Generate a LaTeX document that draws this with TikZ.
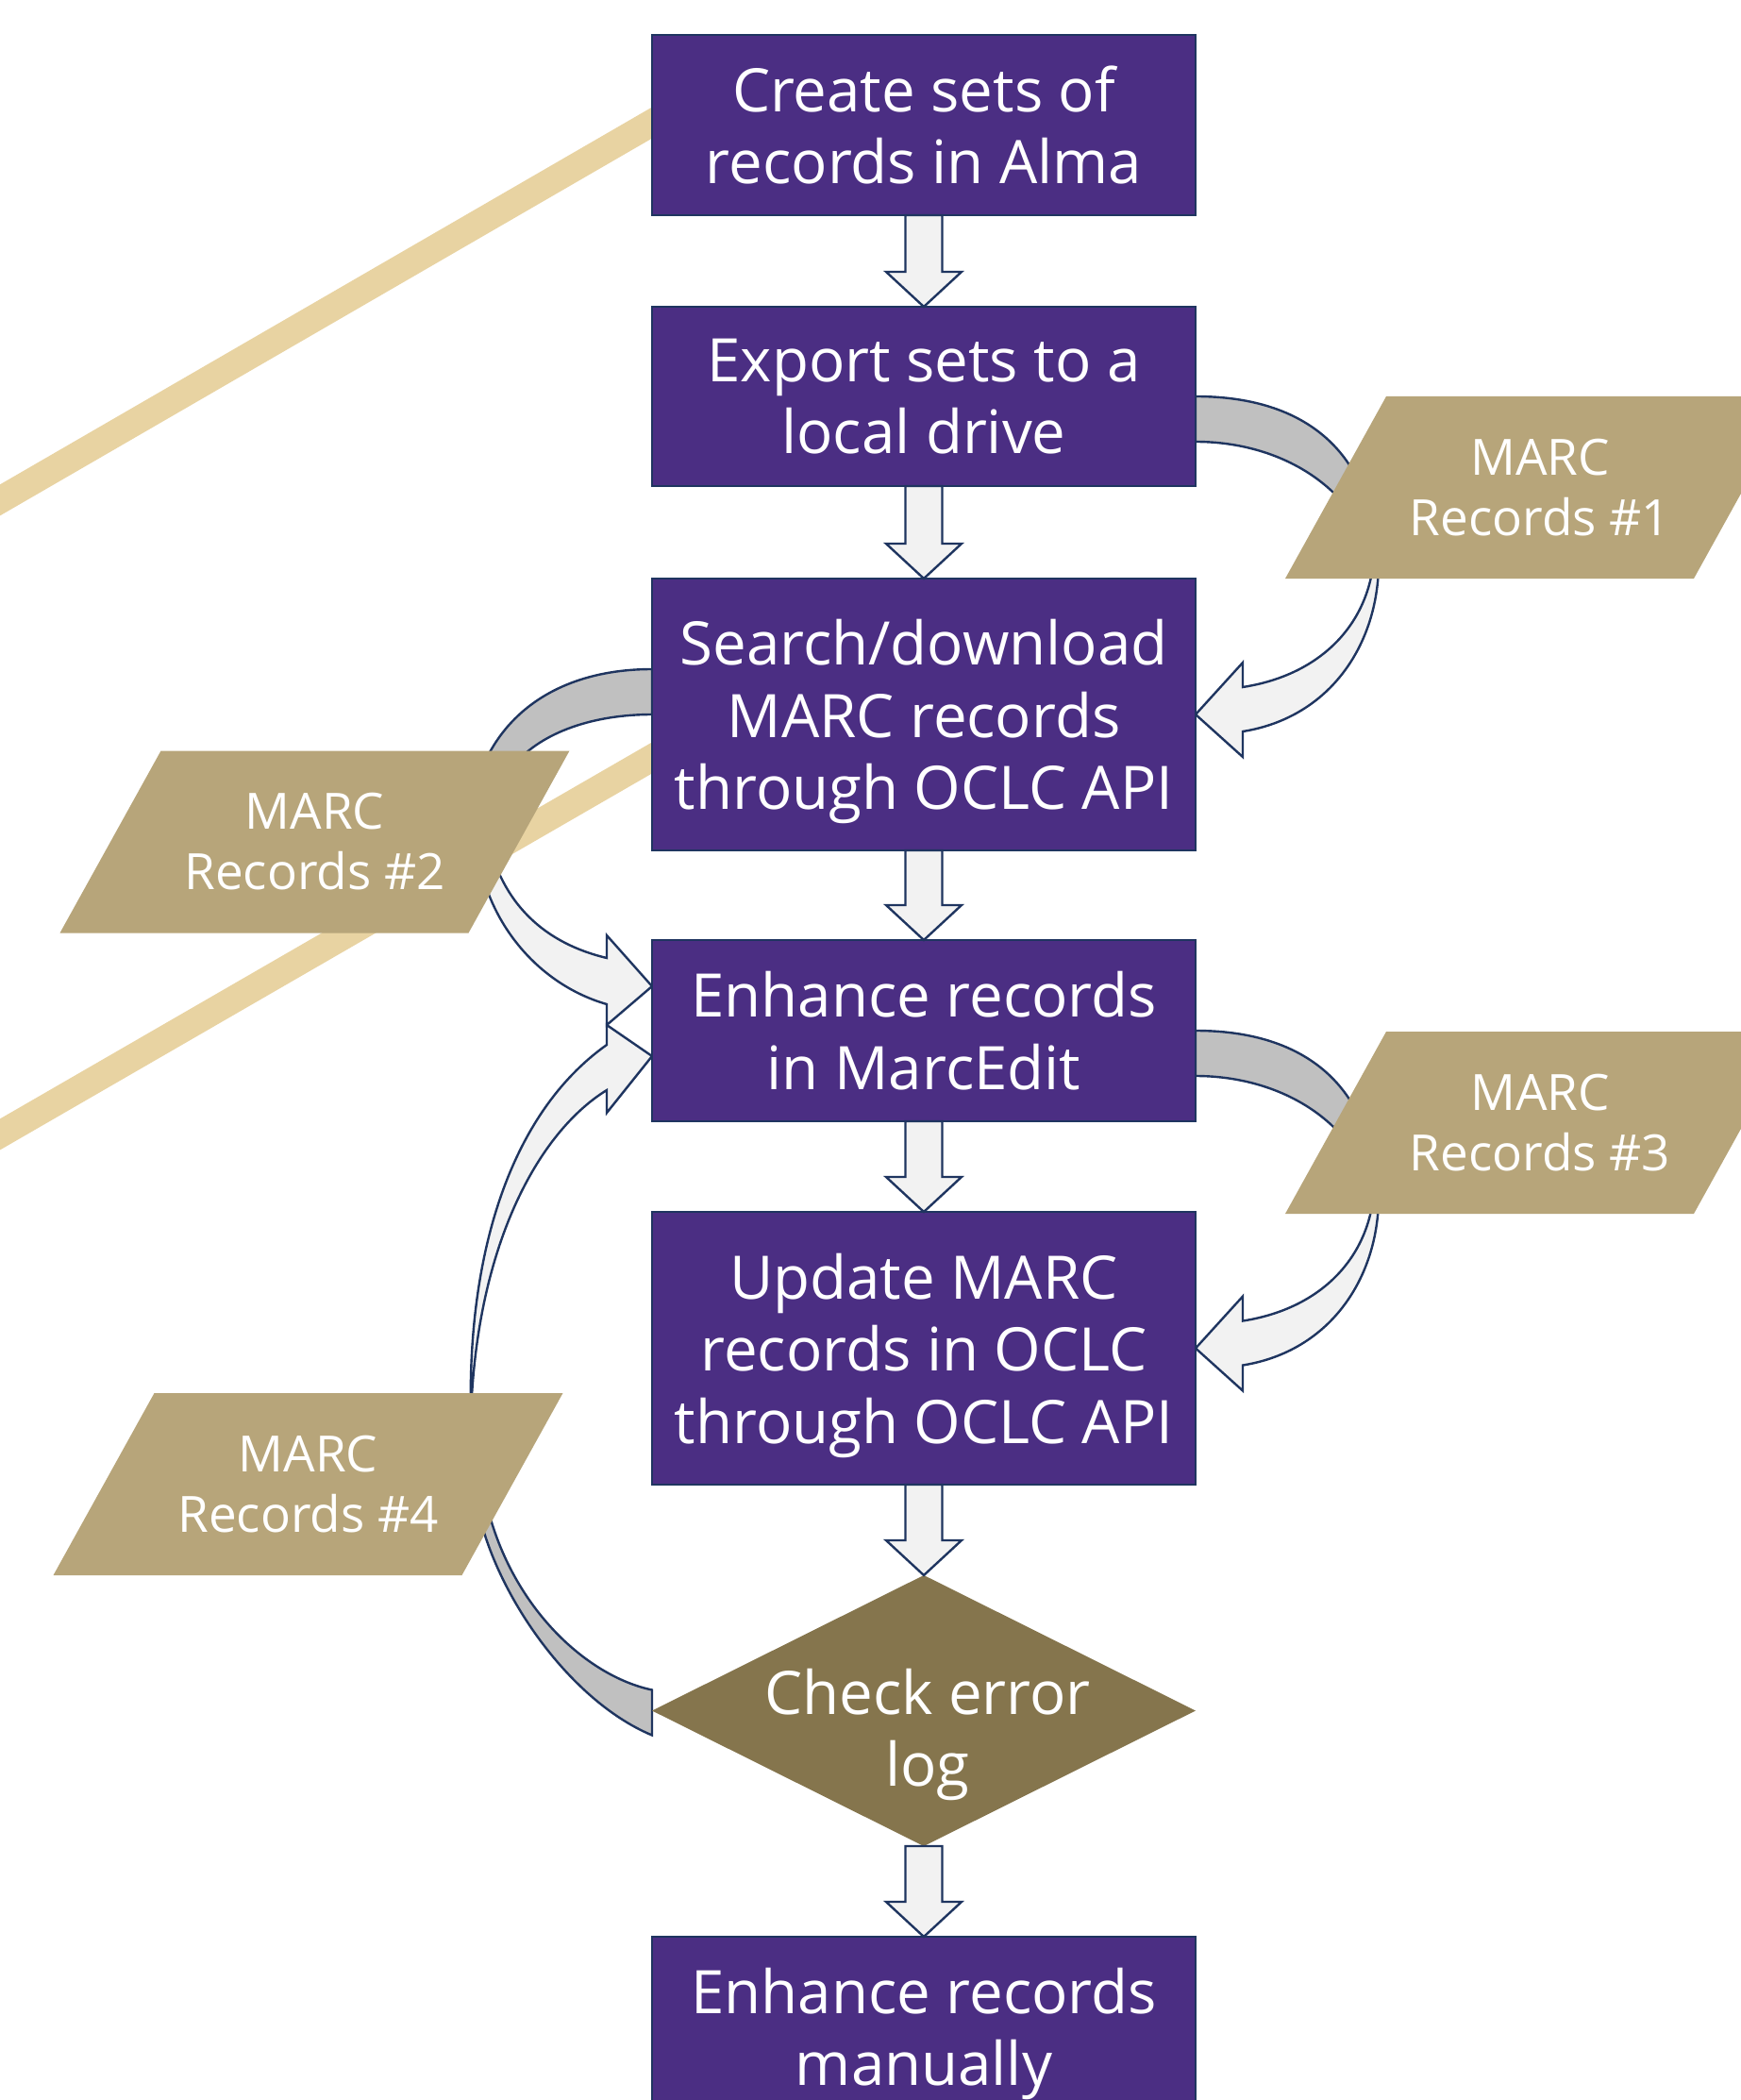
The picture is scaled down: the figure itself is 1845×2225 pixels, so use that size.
\documentclass[tikz,border=0pt]{standalone}
\usepackage{fontspec}
\setmainfont{Open Sans}
\usetikzlibrary{calc,shapes.geometric}
\definecolor{uwpurple}{HTML}{4B2E83}
\definecolor{navyline}{HTML}{1F3560}
\definecolor{uwgold}{HTML}{B7A57A}
\definecolor{tanline}{HTML}{E8D3A2}
\definecolor{dgold}{HTML}{85754D}
\definecolor{afill}{HTML}{F2F2F2}
\definecolor{agray}{HTML}{C0C0C0}
\pgfdeclarelayer{bg}
\pgfdeclarelayer{mid}
\pgfsetlayers{bg,mid,main}
\tikzset{
 pbox/.style={draw=navyline, line width=1.1pt, fill=uwpurple, text=white, minimum width=288pt, inner sep=0pt, outer sep=0pt, align=center, font=\fontsize{31.8pt}{38.3pt}\selectfont},
 dtext/.style={text=white, inner sep=0pt, align=center, font=\fontsize{31.8pt}{38.3pt}\selectfont},
 marctext/.style={text=white, align=center, inner sep=0pt, font=\fontsize{26.5pt}{32pt}\selectfont},
 blockarrow/.style={fill=afill, draw=navyline, line width=1.2pt},
 grayarrow/.style={fill=agray, draw=navyline, line width=1.2pt},
 band/.style={draw=tanline, line width=14.3pt},
}
\newcommand\dnarrow[2]{\draw[blockarrow] ($(#1.south)+(-19.5,0)$) -- ($(#2.north)+(-19.5,-37)$) -- ($(#2.north)+(-40,-37)$) -- (#2.north) -- ($(#2.north)+(40,-37)$) -- ($(#2.north)+(19.5,-37)$) -- ($(#1.south)+(19.5,0)$) -- cycle;}
\newcommand\marcshape[4]{\coordinate (#1c) at (#2,#3);
 \fill[uwgold] ($(#1c)+(-163,-96.5)$) -- ($(#1c)+(270,-96.5)$) -- ($(#1c)+(163,96.5)$) -- ($(#1c)+(-270,96.5)$) -- cycle;
 \node[marctext] (#1) at (#1c) {#4};}
\newcommand\rightcurve[2]{%
 \draw[grayarrow] (#1.east) .. controls ($(#1.east)+(118,0)$) and ($(#1.east)+(186,60)$) .. ($(#1.east)+(192,170)$) -- ($(#1.east)+(189,172)$) .. controls ($(#1.east)+(164,90)$) and ($(#1.east)+(84,48)$) .. ($(#1.east)+(0,48)$) -- cycle;
 \draw[blockarrow] ($(#2.east)+(194,-167)$) .. controls ($(#2.east)+(196,-77)$) and ($(#2.east)+(144,3)$) .. ($(#2.east)+(50,18)$) -- ($(#2.east)+(50,45)$) -- (#2.east) -- ($(#2.east)+(50,-55)$) -- ($(#2.east)+(50,-29)$) .. controls ($(#2.east)+(134,-42)$) and ($(#2.east)+(184,-97)$) .. ($(#2.east)+(189,-167)$) -- cycle;}
\begin{document}
\begin{tikzpicture}[x=0.5pt,y=-0.5pt]
\useasboundingbox (0,0) rectangle (1845,2225);
\clip (0,0) rectangle (1845,2225);
% process boxes
\node[pbox, minimum height=95.5pt] (b1) at (979,132.5) {Create sets of\\records in Alma};
\node[pbox, minimum height=95pt] (b2) at (979,420) {Export sets to a\\local drive};
\node[pbox, minimum height=144pt] (b3) at (979,757) {Search/download\\MARC records\\\smash{through OCLC API}};
\node[pbox, minimum height=96pt] (b4) at (979,1092) {Enhance records\\in MarcEdit};
\node[pbox, minimum height=144.5pt] (b5) at (979,1428.5) {Update MARC\\records in OCLC\\\smash{through OCLC API}};
\node[diamond, fill=dgold, minimum width=288pt, minimum height=143.5pt, inner sep=0pt, outer sep=0pt] (d) at (979,1812.5) {};
\node[dtext] (dt) at (983,1838) {Check error\\log};
\node[pbox, minimum height=95.5pt] (b6) at (979,2147.5) {Enhance records\\\smash{manually}};
% background: tan lines and curved arrows
\begin{pgfonlayer}{bg}
\draw[band] (800,67) -- (-40,553);
\draw[band] (800,740) -- (-40,1225);
\rightcurve{b2}{b3}
\rightcurve{b4}{b5}
% A2: box3 -> MARC #2 -> box4
\draw[grayarrow] ($(b3.west)+(0,-48)$) .. controls ($(b3.west)+(-91,-48)$) and ($(b3.west)+(-161,-7)$) .. ($(b3.west)+(-186,73)$) -- ($(b3.west)+(-146,53)$) .. controls ($(b3.west)+(-116,18)$) and ($(b3.west)+(-61,0)$) .. (b3.west) -- cycle;
\draw[blockarrow] ($(b4.west)+(-186,-212)$) .. controls ($(b4.west)+(-186,-132)$) and ($(b4.west)+(-131,-52)$) .. ($(b4.west)+(-48,-28)$) -- ($(b4.west)+(-48,-6)$) -- ($(b4.west)+(0,-47)$) -- ($(b4.west)+(-48,-101)$) -- ($(b4.west)+(-48,-77)$) .. controls ($(b4.west)+(-111,-92)$) and ($(b4.west)+(-161,-132)$) .. ($(b4.west)+(-176,-212)$) -- cycle;
% A4: diamond -> MARC #4 -> box4
\draw[grayarrow] ($(d.west)+(0,-22)$) .. controls ($(d.west)+(-71,-37)$) and ($(d.west)+(-151,-112)$) .. ($(d.west)+(-176,-222)$) -- ($(d.west)+(-186,-222)$) .. controls ($(d.west)+(-171,-132)$) and ($(d.west)+(-91,-12)$) .. ($(d.west)+(0,26)$) -- cycle;
\draw[blockarrow] ($(b4.west)+(-192,408)$) .. controls ($(b4.west)+(-196,238)$) and ($(b4.west)+(-151,88)$) .. ($(b4.west)+(-48,15)$) -- ($(b4.west)+(-48,-6)$) -- ($(b4.west)+(0,27)$) -- ($(b4.west)+(-48,87)$) -- ($(b4.west)+(-48,63)$) .. controls ($(b4.west)+(-121,108)$) and ($(b4.west)+(-186,228)$) .. ($(b4.west)+(-192,408)$) -- cycle;
\end{pgfonlayer}
% data parallelograms
\begin{pgfonlayer}{mid}
\marcshape{p1}{1632}{516.5}{MARC\\Records \#1}
\marcshape{p2}{333.5}{892}{MARC\\Records \#2}
\marcshape{p3}{1632}{1189.5}{MARC\\Records \#3}
\marcshape{p4}{326.5}{1572.5}{MARC\\Records \#4}
\end{pgfonlayer}
% straight flow arrows
\dnarrow{b1}{b2}
\dnarrow{b2}{b3}
\dnarrow{b3}{b4}
\dnarrow{b4}{b5}
\dnarrow{b5}{d}
\dnarrow{d}{b6}
\end{tikzpicture}
\end{document}
